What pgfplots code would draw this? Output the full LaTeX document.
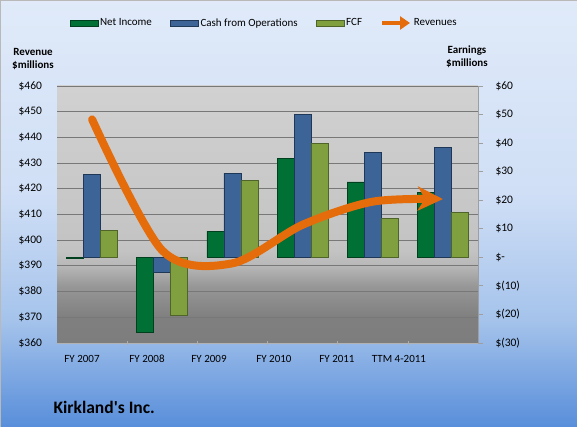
\documentclass[border=0pt]{standalone}
\usepackage{pgfplots}
\pgfplotsset{compat=1.18}
\usepackage{fontspec}
\setmainfont{Carlito}[Ligatures=TeXOff]
\usetikzlibrary{arrows.meta}
\definecolor{niG}{RGB}{0,112,52}
\definecolor{niGd}{RGB}{0,64,30}
\definecolor{cfoB}{RGB}{60,100,150}
\definecolor{cfoBd}{RGB}{32,56,88}
\definecolor{fcfG}{RGB}{128,160,64}
\definecolor{fcfGd}{RGB}{78,100,40}
\definecolor{revO}{RGB}{228,108,10}
\definecolor{gridC}{RGB}{120,120,120}
\pgfdeclareverticalshading{outerbg}{100bp}{rgb(0bp)=(0.345,0.557,0.855); rgb(25bp)=(0.345,0.557,0.855); rgb(37.5bp)=(0.647,0.765,0.922); rgb(52.5bp)=(0.816,0.875,0.965); rgb(75bp)=(0.878,0.918,0.976); rgb(100bp)=(0.878,0.918,0.976)}
\pgfdeclareverticalshading{plotbg}{100bp}{rgb(0bp)=(0.49,0.49,0.49); rgb(25bp)=(0.49,0.49,0.49); rgb(30bp)=(0.50,0.50,0.50); rgb(36bp)=(0.59,0.59,0.59); rgb(40.25bp)=(0.725,0.725,0.725); rgb(43bp)=(0.765,0.765,0.765); rgb(75bp)=(0.82,0.82,0.82); rgb(100bp)=(0.82,0.82,0.82)}
\newcommand{\txt}{\fontsize{11bp}{13bp}\selectfont}
\newcommand{\ytxt}{\fontsize{11.5bp}{13bp}\selectfont}
\newcommand{\rl}[1]{\hspace*{9bp}#1}
\pgfplotsset{
  base/.style={
    at={(57bp,84bp)}, anchor=south west,
    width=421bp, height=257bp, scale only axis,
    xmin=-0.5, xmax=5.5,
    xticklabel style={font=\txt},
    yticklabel style={font=\ytxt},
  }
}
\begin{document}
\begin{tikzpicture}
\shadedraw[shading=outerbg, draw=gray!55, line width=0.8bp] (0bp,0bp) rectangle (577bp,427bp);
% axis A: background, grid, left labels, categories
\begin{axis}[base,
  ymin=360, ymax=460, ytick={360,370,...,460},
  yticklabels={\$360,\$370,\$380,\$390,\$400,\$410,\$420,\$430,\$440,\$450,\$460},
  ymajorgrids, grid style={gridC, line width=0.8bp},
  axis background/.style={shading=plotbg},
  axis x line*=bottom, axis y line*=left,
  x axis line style={draw=gray!60, line width=0.6bp, -},
  y axis line style={draw=none},
  major tick length=0pt,
  xtick={-0.144,0.783,1.666,2.592,3.490,4.374},
  xticklabels={FY 2007,FY 2008,FY 2009,FY 2010,FY 2011,TTM 4-2011},
  minor xtick={0.5,1.5,2.5,3.5,4.5},
  minor tick length=4bp, tick align=center,
  minor tick style={draw=gray!65, line width=0.6bp},
  yticklabel style={xshift=-11.5bp},
  xticklabel style={anchor=base, yshift=-20bp},
]
\end{axis}
% axis B: bars (earnings)
\begin{axis}[base,
  ymin=-30, ymax=60, ytick={-30,-20,...,60},
  yticklabels={\rl{\$(30)},\rl{\$(20)},\rl{\$(10)},\rl{\$-},\rl{\$10},\rl{\$20},\rl{\$30},\rl{\$40},\rl{\$50},\rl{\$60}},
  axis x line=none,
  axis y line*=right,
  y axis line style={draw=gray!75, line width=0.8bp, -},
  ytick style={draw=gray!75, line width=0.8bp},
  major tick length=5bp, tick align=outside,
  yticklabel style={anchor=west},
  ybar=0pt, bar width=17bp,
  xtick=\empty,
]
\addplot[fill=niG, draw=niGd, line width=0.8bp] coordinates {(0,-0.4) (1,-26.4) (2,9.2) (3,34.6) (4,26.4) (5,22.8)};
\addplot[fill=cfoB, draw=cfoBd, line width=0.8bp] coordinates {(0,29.1) (1,-5.2) (2,29.5) (3,50) (4,36.6) (5,38.5)};
\addplot[fill=fcfG, draw=fcfGd, line width=0.8bp] coordinates {(0,9.5) (1,-20.2) (2,26.8) (3,39.9) (4,13.7) (5,15.7)};
\end{axis}
% axis C: revenue line + legend
\begin{axis}[base, ymin=360, ymax=460, hide axis,
  legend columns=4,
  legend style={at={(0.492,1)}, anchor=center, yshift=63bp, draw=none, fill=none, font=\txt,
    /tikz/every even column/.append style={column sep=16bp}},
]
\addlegendimage{legend image code/.code={\draw[fill=niG, draw=niGd, line width=0.6bp] (0bp,-3bp) rectangle (28bp,3bp);}}
\addlegendentry{Net Income}
\addlegendimage{legend image code/.code={\draw[fill=cfoB, draw=cfoBd, line width=0.6bp] (0bp,-3bp) rectangle (28bp,3bp);}}
\addlegendentry{Cash from Operations}
\addlegendimage{legend image code/.code={\draw[fill=fcfG, draw=fcfGd, line width=0.6bp] (0bp,-3bp) rectangle (28bp,3bp);}}
\addlegendentry{FCF}
\addlegendimage{legend image code/.code={\draw[revO, line width=3.8bp, -{Triangle[length=10bp,width=13bp]}] (0bp,0bp) -- (28bp,0bp);}}
\addlegendentry{Revenues}
\addplot[revO, line width=8bp, smooth, line cap=round, -{Stealth[length=25bp,width=24bp,inset=7bp]}, forget plot]
  coordinates {(0,447) (1,396) (2,391) (3,406) (4,415) (5,416)};
\end{axis}
\node[font=\bfseries\txt, align=center] at (33bp,368bp) {Revenue\\\$millions};
\node[font=\bfseries\txt, align=center] at (467bp,370bp) {Earnings\\\$millions};
\node[font=\bfseries\fontsize{17.5bp}{20bp}\selectfont, anchor=west] at (50bp,20bp) {Kirkland's Inc.};
\pgfresetboundingbox
\path (0bp,0bp) rectangle (577bp,427bp);
\end{tikzpicture}
\end{document}
